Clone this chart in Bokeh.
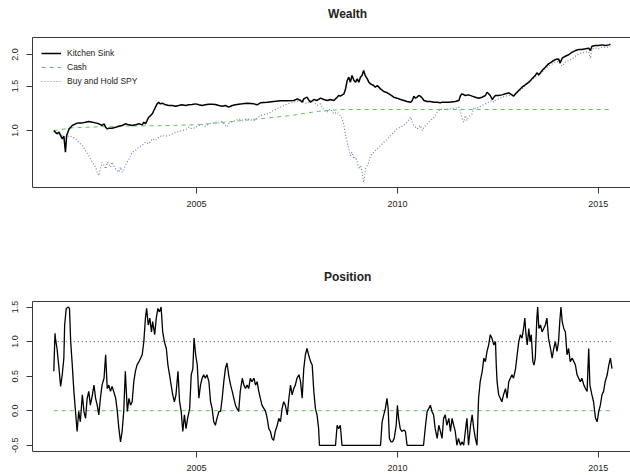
from bokeh.plotting import figure
from bokeh.layouts import column
from bokeh.models import (Range1d, FixedTicker, PrintfTickFormatter, Legend,
                          LegendItem, LinearAxis, Label)
from bokeh.embed import file_html
from bokeh.resources import INLINE

# ---------------- data ----------------
year_ticks = [2005, 2010, 2015]
wealth_ticks = [1.0, 1.5, 2.0]
pos_ticks = [-0.5, 0.0, 0.5, 1.0, 1.5]

ks_t = [2001.45, 2001.49, 2001.53, 2001.58, 2001.62, 2001.66, 2001.70, 2001.74, 2001.77, 2001.80,
        2001.83, 2001.87, 2001.91, 2001.99, 2002.07, 2002.16, 2002.24, 2002.32, 2002.41, 2002.49,
        2002.57, 2002.65, 2002.70, 2002.74, 2002.78, 2002.82, 2002.90, 2002.99, 2003.07, 2003.15,
        2003.23, 2003.32, 2003.40, 2003.48, 2003.57, 2003.65, 2003.69, 2003.73, 2003.77, 2003.81,
        2003.86, 2003.90, 2003.94, 2003.98, 2004.02, 2004.06, 2004.10, 2004.15, 2004.23, 2004.31,
        2004.40, 2004.48, 2004.56, 2004.64, 2004.73, 2004.81, 2004.89, 2004.98, 2005.06, 2005.14,
        2005.22, 2005.31, 2005.39, 2005.47, 2005.56, 2005.64, 2005.72, 2005.80, 2005.85, 2005.89,
        2005.97, 2006.05, 2006.14, 2006.26, 2006.43, 2006.51, 2006.59, 2006.76, 2006.92, 2007.09,
        2007.26, 2007.42, 2007.51, 2007.59, 2007.63, 2007.67, 2007.75, 2007.80, 2007.84, 2007.92,
        2008.00, 2008.09, 2008.17, 2008.25, 2008.33, 2008.42, 2008.50, 2008.54, 2008.58, 2008.67,
        2008.71, 2008.75, 2008.79, 2008.83, 2008.87, 2008.92, 2008.96, 2009.00, 2009.04, 2009.08,
        2009.12, 2009.16, 2009.20, 2009.25, 2009.29, 2009.33, 2009.41, 2009.45, 2009.50, 2009.58,
        2009.66, 2009.75, 2009.83, 2009.91, 2009.99, 2010.08, 2010.16, 2010.24, 2010.33, 2010.37,
        2010.41, 2010.45, 2010.49, 2010.53, 2010.57, 2010.62, 2010.66, 2010.74, 2010.82, 2010.91,
        2010.99, 2011.07, 2011.11, 2011.28, 2011.44, 2011.53, 2011.57, 2011.61, 2011.69, 2011.77,
        2011.86, 2011.94, 2012.02, 2012.11, 2012.19, 2012.23, 2012.27, 2012.31, 2012.36, 2012.40,
        2012.44, 2012.52, 2012.60, 2012.69, 2012.77, 2012.85, 2012.89, 2012.94, 2013.02, 2013.10,
        2013.18, 2013.27, 2013.35, 2013.43, 2013.47, 2013.52, 2013.60, 2013.68, 2013.76, 2013.85,
        2013.93, 2014.01, 2014.05, 2014.10, 2014.18, 2014.26, 2014.35, 2014.43, 2014.51, 2014.59,
        2014.68, 2014.76, 2014.80, 2014.84, 2014.93, 2015.01, 2015.09, 2015.17, 2015.26, 2015.30]
ks_v = [1.000, 0.985, 0.970, 0.985, 0.955, 0.927, 0.950, 0.821, 0.955, 0.985,
        1.015, 1.031, 1.047, 1.063, 1.072, 1.072, 1.079, 1.085, 1.079, 1.072,
        1.063, 1.047, 1.063, 1.031, 1.015, 1.021, 1.021, 1.031, 1.040, 1.047,
        1.063, 1.053, 1.047, 1.053, 1.063, 1.053, 1.079, 1.063, 1.095, 1.129,
        1.146, 1.164, 1.200, 1.237, 1.275, 1.295, 1.275, 1.283, 1.264, 1.256,
        1.256, 1.248, 1.256, 1.264, 1.256, 1.264, 1.268, 1.275, 1.264, 1.256,
        1.264, 1.271, 1.271, 1.268, 1.256, 1.248, 1.256, 1.237, 1.248, 1.256,
        1.264, 1.271, 1.275, 1.283, 1.275, 1.264, 1.287, 1.295, 1.303, 1.311,
        1.311, 1.315, 1.335, 1.315, 1.295, 1.335, 1.355, 1.315, 1.295, 1.327,
        1.315, 1.343, 1.327, 1.315, 1.327, 1.315, 1.355, 1.376, 1.368, 1.397,
        1.462, 1.577, 1.626, 1.554, 1.651, 1.577, 1.554, 1.602, 1.554, 1.626,
        1.651, 1.728, 1.651, 1.602, 1.554, 1.530, 1.507, 1.484, 1.507, 1.462,
        1.427, 1.410, 1.384, 1.355, 1.343, 1.327, 1.315, 1.303, 1.295, 1.315,
        1.368, 1.343, 1.355, 1.376, 1.368, 1.343, 1.315, 1.303, 1.303, 1.295,
        1.295, 1.287, 1.295, 1.295, 1.303, 1.315, 1.376, 1.397, 1.376, 1.384,
        1.368, 1.355, 1.343, 1.355, 1.376, 1.418, 1.397, 1.376, 1.327, 1.355,
        1.376, 1.376, 1.384, 1.397, 1.410, 1.384, 1.368, 1.397, 1.440, 1.484,
        1.516, 1.554, 1.602, 1.651, 1.692, 1.661, 1.728, 1.781, 1.836, 1.876,
        1.910, 1.921, 1.853, 1.933, 1.969, 1.995, 2.043, 2.073, 2.092, 2.092,
        2.106, 2.119, 2.073, 2.157, 2.171, 2.171, 2.183, 2.171, 2.183, 2.196]

cash_t = [2001.45, 2001.91, 2003.00, 2004.15, 2005.06, 2006.14, 2007.34, 2008.00, 2008.58, 2015.34]
cash_v = [1.000, 1.025, 1.040, 1.045, 1.055, 1.095, 1.146, 1.190, 1.211, 1.211]

spy_t = [2001.45, 2001.49, 2001.58, 2001.66, 2001.74, 2001.83, 2001.91, 2001.99, 2002.07, 2002.16,
         2002.24, 2002.32, 2002.41, 2002.49, 2002.53, 2002.57, 2002.61, 2002.65, 2002.70, 2002.74,
         2002.78, 2002.82, 2002.86, 2002.90, 2002.94, 2002.99, 2003.07, 2003.11, 2003.15, 2003.19,
         2003.23, 2003.32, 2003.40, 2003.48, 2003.57, 2003.65, 2003.73, 2003.81, 2003.90, 2003.98,
         2004.06, 2004.15, 2004.23, 2004.31, 2004.40, 2004.48, 2004.56, 2004.64, 2004.73, 2004.81,
         2004.89, 2004.98, 2005.06, 2005.14, 2005.22, 2005.31, 2005.39, 2005.47, 2005.56, 2005.64,
         2005.72, 2005.76, 2005.80, 2005.89, 2005.97, 2006.05, 2006.14, 2006.26, 2006.43, 2006.59,
         2006.76, 2006.92, 2007.09, 2007.26, 2007.42, 2007.59, 2007.67, 2007.75, 2007.84, 2007.92,
         2008.00, 2008.09, 2008.17, 2008.25, 2008.33, 2008.42, 2008.50, 2008.58, 2008.62, 2008.67,
         2008.71, 2008.75, 2008.79, 2008.83, 2008.87, 2008.92, 2008.96, 2009.00, 2009.04, 2009.08,
         2009.12, 2009.16, 2009.18, 2009.20, 2009.25, 2009.29, 2009.33, 2009.41, 2009.50, 2009.58,
         2009.66, 2009.75, 2009.83, 2009.91, 2009.99, 2010.08, 2010.16, 2010.24, 2010.33, 2010.37,
         2010.41, 2010.45, 2010.49, 2010.57, 2010.62, 2010.66, 2010.74, 2010.82, 2010.91, 2010.99,
         2011.07, 2011.11, 2011.28, 2011.44, 2011.53, 2011.57, 2011.61, 2011.65, 2011.69, 2011.73,
         2011.77, 2011.86, 2011.90, 2011.94, 2012.02, 2012.11, 2012.19, 2012.27, 2012.36, 2012.40,
         2012.44, 2012.52, 2012.60, 2012.69, 2012.77, 2012.85, 2012.94, 2013.02, 2013.10, 2013.18,
         2013.27, 2013.35, 2013.43, 2013.52, 2013.60, 2013.68, 2013.76, 2013.85, 2013.93, 2014.01,
         2014.10, 2014.18, 2014.26, 2014.35, 2014.43, 2014.51, 2014.59, 2014.68, 2014.76, 2014.80,
         2014.84, 2014.93, 2015.01, 2015.09, 2015.17, 2015.26, 2015.30]
spy_v = [1.000, 0.985, 0.970, 0.955, 0.927, 0.955, 0.941, 0.927, 0.899, 0.872,
         0.833, 0.796, 0.749, 0.716, 0.684, 0.663, 0.705, 0.749, 0.727, 0.705,
         0.749, 0.738, 0.716, 0.749, 0.727, 0.705, 0.684, 0.716, 0.684, 0.695,
         0.727, 0.772, 0.821, 0.833, 0.859, 0.872, 0.899, 0.885, 0.927, 0.913,
         0.941, 0.955, 0.950, 0.955, 0.970, 0.985, 0.991, 1.000, 1.006, 1.031,
         1.015, 1.031, 1.047, 1.053, 1.040, 1.063, 1.072, 1.079, 1.072, 1.085,
         1.047, 1.031, 1.063, 1.085, 1.095, 1.112, 1.100, 1.112, 1.095, 1.146,
         1.164, 1.200, 1.237, 1.275, 1.295, 1.315, 1.295, 1.275, 1.315, 1.295,
         1.256, 1.275, 1.200, 1.182, 1.218, 1.164, 1.182, 1.146, 1.112, 1.047,
         0.955, 0.899, 0.846, 0.796, 0.821, 0.772, 0.784, 0.749, 0.705, 0.727,
         0.684, 0.624, 0.643, 0.705, 0.727, 0.749, 0.796, 0.821, 0.846, 0.872,
         0.899, 0.927, 0.955, 0.985, 1.015, 1.031, 1.047, 1.079, 1.129, 1.079,
         1.047, 1.031, 1.015, 1.047, 1.000, 1.031, 1.063, 1.095, 1.129, 1.182,
         1.218, 1.211, 1.218, 1.226, 1.237, 1.182, 1.112, 1.079, 1.146, 1.095,
         1.129, 1.164, 1.237, 1.218, 1.237, 1.256, 1.275, 1.295, 1.315, 1.295,
         1.315, 1.335, 1.355, 1.368, 1.376, 1.376, 1.397, 1.427, 1.462, 1.507,
         1.545, 1.592, 1.626, 1.651, 1.702, 1.755, 1.797, 1.836, 1.865, 1.876,
         1.797, 1.865, 1.893, 1.921, 1.969, 2.011, 2.029, 2.043, 2.055, 1.921,
         2.106, 2.119, 2.106, 2.138, 2.131, 2.150, 2.157]

pos_t = [2001.45, 2001.48, 2001.49, 2001.53, 2001.58, 2001.62, 2001.66, 2001.70, 2001.72, 2001.76,
         2001.81, 2001.84, 2001.87, 2001.91, 2001.95, 2001.99, 2002.03, 2002.07, 2002.11, 2002.16,
         2002.20, 2002.24, 2002.28, 2002.32, 2002.36, 2002.41, 2002.45, 2002.49, 2002.53, 2002.57,
         2002.61, 2002.65, 2002.70, 2002.74, 2002.78, 2002.82, 2002.86, 2002.90, 2002.94, 2002.99,
         2003.03, 2003.07, 2003.11, 2003.15, 2003.19, 2003.23, 2003.28, 2003.32, 2003.36, 2003.40,
         2003.44, 2003.48, 2003.52, 2003.57, 2003.61, 2003.65, 2003.69, 2003.73, 2003.76, 2003.80,
         2003.84, 2003.88, 2003.91, 2003.96, 2004.00, 2004.04, 2004.08, 2004.12, 2004.16, 2004.20,
         2004.25, 2004.29, 2004.33, 2004.37, 2004.41, 2004.45, 2004.49, 2004.54, 2004.58, 2004.62,
         2004.66, 2004.70, 2004.74, 2004.78, 2004.83, 2004.87, 2004.91, 2004.94, 2004.98, 2005.02,
         2005.06, 2005.10, 2005.14, 2005.18, 2005.22, 2005.26, 2005.31, 2005.35, 2005.39, 2005.43,
         2005.47, 2005.51, 2005.56, 2005.60, 2005.64, 2005.68, 2005.72, 2005.76, 2005.80, 2005.85,
         2005.89, 2005.93, 2005.97, 2006.01, 2006.05, 2006.09, 2006.14, 2006.18, 2006.22, 2006.26,
         2006.30, 2006.34, 2006.38, 2006.43, 2006.47, 2006.51, 2006.55, 2006.59, 2006.63, 2006.68,
         2006.72, 2006.76, 2006.80, 2006.84, 2006.88, 2006.92, 2006.96, 2007.01, 2007.05, 2007.09,
         2007.13, 2007.17, 2007.21, 2007.26, 2007.30, 2007.34, 2007.38, 2007.42, 2007.46, 2007.50,
         2007.55, 2007.59, 2007.63, 2007.67, 2007.71, 2007.75, 2007.79, 2007.84, 2007.88, 2007.92,
         2007.96, 2008.00, 2008.04, 2008.06, 2008.46, 2008.50, 2008.54, 2008.58, 2008.62, 2009.58,
         2009.62, 2009.66, 2009.70, 2009.74, 2009.77, 2009.80, 2009.84, 2009.88, 2009.92, 2009.97,
         2010.00, 2010.03, 2010.07, 2010.11, 2010.16, 2010.20, 2010.24, 2010.65, 2010.70, 2010.74,
         2010.78, 2010.82, 2010.86, 2010.90, 2010.94, 2010.99, 2011.03, 2011.07, 2011.11, 2011.15,
         2011.19, 2011.23, 2011.28, 2011.32, 2011.36, 2011.40, 2011.44, 2011.48, 2011.52, 2011.57,
         2011.61, 2011.65, 2011.69, 2011.73, 2011.77, 2011.82, 2011.86, 2011.90, 2011.94, 2011.98,
         2012.02, 2012.06, 2012.11, 2012.15, 2012.19, 2012.23, 2012.27, 2012.31, 2012.35, 2012.40,
         2012.44, 2012.46, 2012.48, 2012.52, 2012.56, 2012.60, 2012.64, 2012.69, 2012.73, 2012.77,
         2012.81, 2012.85, 2012.89, 2012.94, 2012.98, 2013.02, 2013.06, 2013.10, 2013.14, 2013.17,
         2013.20, 2013.23, 2013.27, 2013.30, 2013.33, 2013.37, 2013.40, 2013.43, 2013.47, 2013.49,
         2013.52, 2013.56, 2013.60, 2013.64, 2013.68, 2013.72, 2013.76, 2013.81, 2013.85, 2013.89,
         2013.93, 2013.97, 2014.01, 2014.04, 2014.07, 2014.10, 2014.14, 2014.18, 2014.22, 2014.26,
         2014.30, 2014.35, 2014.39, 2014.43, 2014.47, 2014.51, 2014.55, 2014.59, 2014.64, 2014.68,
         2014.72, 2014.76, 2014.79, 2014.84, 2014.88, 2014.93, 2014.97, 2015.01, 2015.05, 2015.09,
         2015.13, 2015.17, 2015.22, 2015.26, 2015.30, 2015.34]
pos_v = [0.57, 1.12, 1.05, 0.90, 0.61, 0.35, 0.52, 0.76, 1.24, 1.48,
         1.50, 1.48, 1.00, 0.66, 0.28, -0.01, -0.30, -0.01, -0.16, 0.23,
         -0.01, -0.11, 0.18, 0.28, 0.08, 0.23, 0.37, 0.18, 0.08, -0.06,
         0.18, 0.37, 0.47, 0.81, 0.32, 0.37, 0.28, 0.35, 0.28, 0.18,
         -0.01, -0.26, -0.45, -0.30, -0.01, 0.57, -0.01, 0.18, 0.08, 0.13,
         0.42, 0.57, 0.66, 0.71, 0.76, 0.81, 1.00, 1.34, 1.48, 1.24,
         1.34, 1.14, 1.29, 1.10, 1.34, 1.48, 1.43, 1.50, 1.14, 1.00,
         0.90, 0.66, 0.52, 0.37, 0.23, 0.13, 0.23, 0.57, 0.13, -0.01,
         -0.30, -0.06, -0.26, -0.11, 0.03, 0.52, 0.61, 1.05, 0.81, 0.66,
         0.18, 0.37, 0.47, 0.52, 0.47, 0.52, 0.42, 0.13, 0.03, -0.16,
         -0.21, -0.11, -0.01, -0.01, 0.18, 0.42, 0.61, 0.69, 0.52, 0.37,
         0.28, 0.18, 0.08, 0.03, -0.01, 0.28, 0.47, 0.37, 0.32, 0.37,
         0.32, 0.47, 0.42, 0.47, 0.37, 0.42, 0.28, 0.18, 0.08, 0.03,
         -0.01, -0.11, -0.26, -0.30, -0.40, -0.43, -0.30, -0.21, -0.11, -0.16,
         0.03, 0.13, 0.08, -0.06, 0.18, 0.37, 0.23, 0.32, 0.37, 0.47,
         0.52, 0.42, 0.18, 0.61, 0.81, 0.90, 0.81, 0.71, 0.66, 0.28,
         0.03, -0.06, -0.26, -0.50, -0.50, -0.21, -0.26, -0.21, -0.50, -0.50,
         -0.16, -0.06, 0.03, 0.18, 0.03, -0.40, -0.45, -0.45, -0.40, -0.21,
         0.08, -0.11, -0.26, -0.30, -0.28, -0.30, -0.50, -0.50, -0.21, -0.01,
         0.03, 0.08, -0.01, -0.06, -0.26, -0.40, -0.21, -0.30, -0.40, -0.11,
         -0.06, -0.21, -0.11, -0.30, -0.11, -0.21, -0.30, -0.50, -0.40, -0.50,
         -0.45, -0.50, -0.30, -0.11, -0.50, -0.21, -0.06, -0.26, -0.40, -0.50,
         0.18, 0.42, 0.57, 0.76, 0.71, 0.86, 0.95, 1.10, 1.05, 0.95,
         1.00, 0.66, 0.42, 0.23, 0.18, 0.13, 0.23, 0.32, 0.18, 0.42,
         0.47, 0.52, 0.47, 0.61, 0.81, 1.00, 1.10, 1.05, 1.19, 1.34,
         1.10, 0.95, 1.19, 1.00, 1.10, 0.71, 0.66, 0.76, 1.34, 1.50,
         1.19, 1.24, 1.14, 1.19, 1.24, 1.34, 1.05, 0.90, 0.76, 0.90,
         1.00, 0.86, 1.00, 1.29, 1.50, 1.29, 1.19, 1.14, 0.81, 0.90,
         0.71, 0.76, 0.71, 0.66, 0.52, 0.47, 0.42, 0.47, 0.37, 0.32,
         0.28, 0.90, 0.37, 0.23, 0.13, -0.11, -0.16, -0.01, 0.08, 0.23,
         0.28, 0.42, 0.52, 0.66, 0.76, 0.61]

# ---------------- style ----------------
FONT = "Liberation Sans"
INK = "#222222"
FRAME = "#3a3a3a"
X0, X1 = 2000.92, 2015.80
W = 630


def title_strip(text, height, from_bottom):
    """A tiny axis-less figure that only carries a panel title."""
    t = figure(width=W, height=height, output_backend="svg", toolbar_location=None,
               x_range=Range1d(0, W), y_range=Range1d(0, height), min_border=0)
    t.axis.visible = False
    t.grid.visible = False
    t.outline_line_color = None
    t.background_fill_color = "white"
    t.border_fill_color = "white"
    t.add_layout(Label(x=332, y=from_bottom, text=text, text_font=FONT,
                       text_font_size="12px", text_font_style="bold", text_color=INK,
                       text_align="center", text_baseline="middle"))
    return t


def base_figure(height, top, bottom, y_range, y_type="linear"):
    p = figure(width=W, height=height, output_backend="svg", toolbar_location=None,
               x_range=Range1d(X0, X1), y_range=y_range, y_axis_type=y_type,
               min_border_left=32, min_border_right=0, min_border_top=top,
               min_border_bottom=bottom)
    p.outline_line_color = None
    p.xgrid.visible = False
    p.ygrid.visible = False
    p.background_fill_color = "white"
    p.border_fill_color = "white"
    for ax in (p.xaxis, p.yaxis):
        ax.axis_line_color = FRAME
        ax.axis_line_width = 1
        ax.major_tick_line_color = FRAME
        ax.major_tick_out = 6
        ax.major_tick_in = 0
        ax.minor_tick_line_color = None
        ax.major_label_text_font = FONT
        ax.major_label_text_font_size = "9px"
        ax.major_label_text_color = INK
    p.xaxis.ticker = FixedTicker(ticks=year_ticks)
    p.xaxis.major_label_standoff = 7
    p.yaxis.major_label_orientation = "vertical"
    p.yaxis.major_label_standoff = 8
    top_ax = LinearAxis(ticker=FixedTicker(ticks=[]), axis_line_color=FRAME,
                        major_tick_line_color=None, minor_tick_line_color=None,
                        major_label_text_font_size="0px", major_label_standoff=0)
    p.add_layout(top_ax, "above")
    return p


# ---- Wealth ----
t1 = title_strip("Wealth", 24, 11)
p1 = base_figure(213, 13, 50, Range1d(0.5948, 2.335), "log")
p1.yaxis.ticker = FixedTicker(ticks=wealth_ticks)
p1.yaxis.formatter = PrintfTickFormatter(format="%.1f")

r_spy = p1.line(spy_t, spy_v, line_color="#7480c0", line_width=1.2, line_dash="1 2")
r_cash = p1.line(cash_t, cash_v, line_color="#62c062", line_width=1, line_dash="4 4")
r_ks = p1.line(ks_t, ks_v, line_color="black", line_width=1.5)

legend = Legend(items=[LegendItem(label="Kitchen Sink", renderers=[r_ks]),
                       LegendItem(label="Cash", renderers=[r_cash]),
                       LegendItem(label="Buy and Hold SPY", renderers=[r_spy])],
                location="top_left", border_line_color=None, background_fill_alpha=0,
                label_text_font=FONT, label_text_font_size="8.5px", label_text_color=INK,
                glyph_width=20, glyph_height=14, label_height=14, spacing=0,
                padding=0, margin=9, label_standoff=6)
p1.add_layout(legend)

# ---- Position ----
t2 = title_strip("Position", 50, 11)
p2 = base_figure(188, 14, 24, Range1d(-0.59, 1.58))
p2.yaxis.ticker = FixedTicker(ticks=pos_ticks)
p2.yaxis.formatter = PrintfTickFormatter(format="%.1f")

p2.line([pos_t[0], pos_t[-1]], [pos_ticks[3], pos_ticks[3]], line_color="#555555",
        line_width=1, line_dash="1 3")
p2.line([pos_t[0], pos_t[-1]], [pos_ticks[1], pos_ticks[1]], line_color="#62c062",
        line_width=1, line_dash="4 4")
p2.line(pos_t, pos_v, line_color="black", line_width=1.3)

layout = column(t1, p1, t2, p2, spacing=0)
open("out.html", "w").write(file_html(layout, INLINE))
